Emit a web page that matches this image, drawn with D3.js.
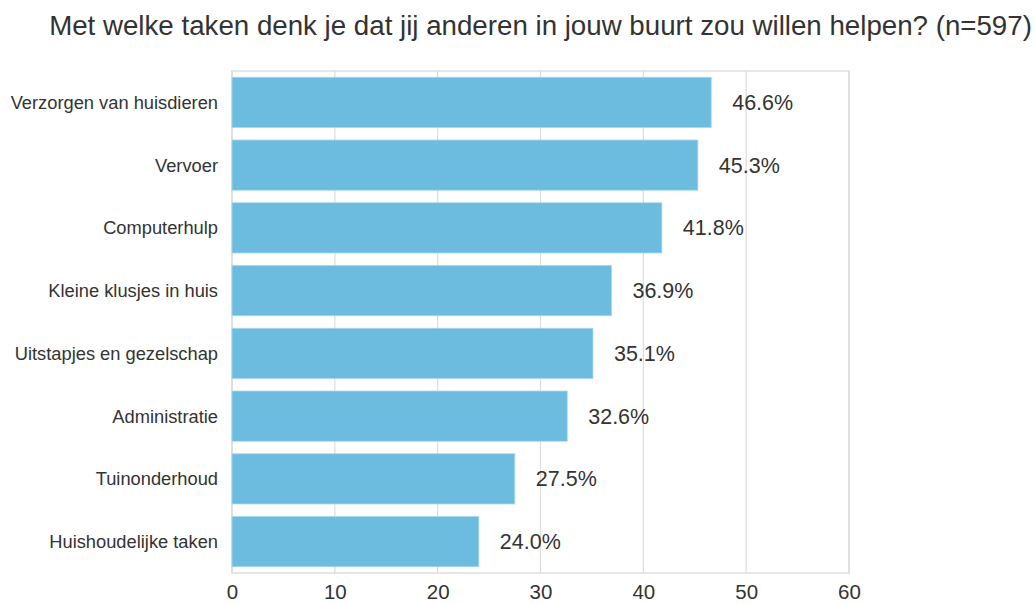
<!DOCTYPE html>
<html>
<head>
<meta charset="utf-8">
<script src="https://cdn.jsdelivr.net/npm/d3@7"></script>
<style>
  body { margin: 0; background: #fff; }
  text { font-family: "Liberation Sans", Arial, sans-serif; fill: #333; }
</style>
</head>
<body>
<div id="chart"></div>
<script>
// data
var categories = ["Verzorgen van huisdieren", "Vervoer", "Computerhulp", "Kleine klusjes in huis",
                  "Uitstapjes en gezelschap", "Administratie", "Tuinonderhoud", "Huishoudelijke taken"];
var percentages = [46.6, 45.3, 41.8, 36.9, 35.1, 32.6, 27.5, 24.0];
var xTicks = [0, 10, 20, 30, 40, 50, 60];
var title = "Met welke taken denk je dat jij anderen in jouw buurt zou willen helpen? (n=597)";

var data = categories.map(function(c, i) { return {name: c, value: percentages[i]}; });

//set dimensions and margins of the graph
var margin = {top: 71, right: 187, bottom: 31, left: 232},
    width = 1036 - margin.left - margin.right,
    height = 604 - margin.top - margin.bottom;

var x = d3.scaleLinear()
          .domain([0, 60])
          .range([0, width]);
var y = d3.scaleBand()
          .domain(categories)
          .range([0, height])
          .paddingInner(0.2)
          .paddingOuter(0.1);

var root = d3.select("#chart").append("svg")
      .attr("width", 1036)
      .attr("height", 604);

// title
root.append("text")
    .attr("x", margin.left + width / 2)
    .attr("y", 35)
    .attr("text-anchor", "middle")
    .style("font-size", "27.7px")
    .text(title);

var svg = root.append("g")
    .attr("transform", "translate(" + margin.left + "," + margin.top + ")");

// vertical gridlines
svg.selectAll(".grid")
    .data(xTicks)
  .enter().append("line")
    .attr("x1", function(d) { return x(d); })
    .attr("x2", function(d) { return x(d); })
    .attr("y1", 0)
    .attr("y2", height)
    .attr("stroke", "#dcdcdc")
    .attr("stroke-width", 1.2);

// frame
svg.append("rect")
    .attr("x", 0).attr("y", 0)
    .attr("width", width).attr("height", height)
    .attr("fill", "none")
    .attr("stroke", "#d8d8d8")
    .attr("stroke-width", 1.2);

// bars
svg.selectAll(".bar")
    .data(data)
  .enter().append("rect")
    .attr("class", "bar")
    .attr("x", x(0))
    .attr("y", function(d) { return y(d.name); })
    .attr("width", function(d) { return x(d.value) - x(0); })
    .attr("height", y.bandwidth())
    .attr("fill", "#6cbcdf")
    .attr("stroke", "#a6d6ec")
    .attr("stroke-width", 0.8);

// value labels
svg.selectAll(".val")
    .data(data)
  .enter().append("text")
    .attr("x", function(d) { return x(d.value) + 21; })
    .attr("y", function(d) { return y(d.name) + y.bandwidth() / 2; })
    .attr("dy", "0.35em")
    .style("font-size", "21.5px")
    .text(function(d) { return d.value.toFixed(1) + "%"; });

// y axis labels
svg.selectAll(".cat")
    .data(data)
  .enter().append("text")
    .attr("x", -14)
    .attr("y", function(d) { return y(d.name) + y.bandwidth() / 2; })
    .attr("dy", "0.35em")
    .attr("text-anchor", "end")
    .style("font-size", "18.3px")
    .text(function(d) { return d.name; });

// x axis
var xAxis = svg.append("g")
    .attr("transform", "translate(0," + height + ")")
    .call(d3.axisBottom(x).tickValues(xTicks).tickSize(0).tickPadding(11));
xAxis.select(".domain").remove();
xAxis.selectAll("text")
    .style("font-size", "20.5px")
    .style("font-family", "'Liberation Sans', Arial, sans-serif")
    .attr("fill", "#333");
</script>
</body>
</html>
